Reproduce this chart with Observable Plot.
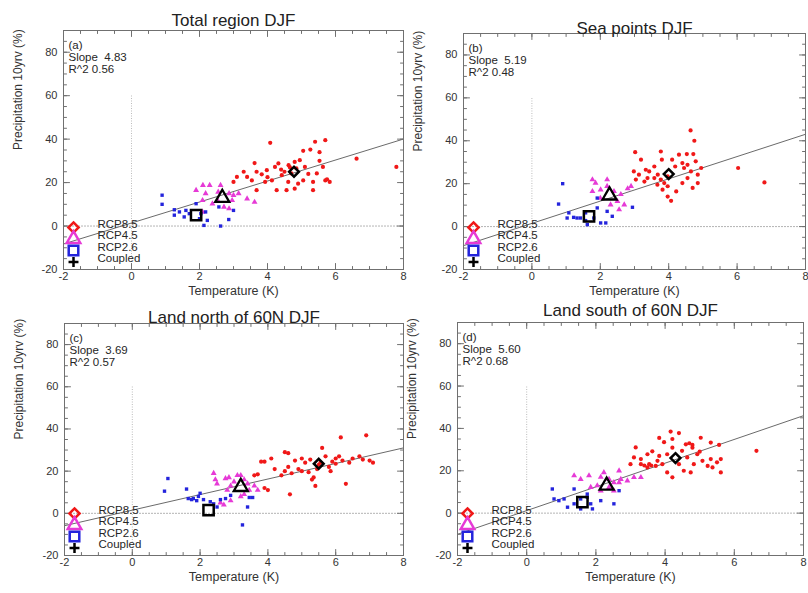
<!DOCTYPE html>
<html><head><meta charset="utf-8">
<script src="https://cdn.jsdelivr.net/npm/d3@7"></script>
<script src="https://cdn.jsdelivr.net/npm/@observablehq/plot@0.6"></script>
<style>
body{margin:0;background:#fff;width:808px;height:593px;overflow:hidden;font-family:"Liberation Sans",Arial,sans-serif}
#wrap{position:relative;width:808px;height:593px}
.panel{position:absolute}
</style></head><body><div id="wrap"></div>
<script>
// ---------- data ----------
const panelLetters = ["(a)", "(b)", "(c)", "(d)"];
const panelTitles = ["Total region DJF", "Sea points DJF", "Land north of 60N DJF", "Land south of 60N DJF"];
const slopes = [4.83, 5.19, 3.69, 5.60];
const intercepts = [1.4, 1.5, 1.5, 1.2];
const rSquared = [0.56, 0.48, 0.57, 0.68];
const legendLabels = ["RCP8.5", "RCP4.5", "RCP2.6", "Coupled"];
const xTickValues = [-2, 0, 2, 4, 6, 8];
const yTickValues = [-20, 0, 20, 40, 60, 80];
const xLabel = "Temperature (K)";
const yLabel = "Precipitation 10yrv (%)";

// panel (a)
const rcp85A = [[4.08,38.3],[5.7,39.5],[5.4,38.8],[5.05,34.6],[5.26,35.2],[5.53,34],[3.62,29],[6.62,31],[7.79,27.2],[5.53,30],[4.8,29.5],[4.62,28],[3.3,25],[3.4,22.6],[3.83,23.8],[3.98,25.7],[4.22,27.2],[4.32,28.8],[4.5,25],[4.66,27],[4.42,23.4],[4.13,21],[3.93,20.3],[4.27,16.5],[4.56,16.5],[4.8,17.2],[5.05,21],[5.2,24],[5.34,20.3],[5.63,27.2],[5.7,21],[5.83,20.3],[5.34,16.5],[3.54,21],[3.68,16.5],[4.95,30.3],[4.85,26.5],[5.1,27.2],[4.61,20.3],[4.9,19.5],[5.45,24.2],[4.7,24.2],[3.68,25],[3.1,22.6],[3.0,20.3],[5.75,21.5],[4.0,22.5],[4.4,26]];
const rcp45A = [[1.9,16.5],[2.1,18.8],[2.3,18.8],[2.18,15],[2.55,15.7],[2.62,18.8],[2.87,15],[3.0,14.2],[3.15,15],[3.4,12.6],[3.62,11],[2.53,11.8],[2.72,8.8],[2.38,10.3],[2.96,11.8],[2.09,11.8],[2.09,6.5],[2.87,8]];
const rcp26A = [[0.9,14.2],[0.9,10],[1.26,7.5],[1.41,6.5],[1.26,5],[1.55,4.2],[1.7,5.7],[1.9,10.3],[2.0,3.4],[2.18,6.5],[2.23,2.6],[2.13,0.3],[2.62,0],[2.86,3],[3.0,7.2],[2.57,8.8],[1.6,7.2],[2.04,5.7]];
// panel (b)
const rcp85B = [[4.64,44.8],[4.75,40],[3.02,34.7],[3.19,31.2],[3.77,35],[3.8,31.2],[4.1,31.2],[4.3,33.5],[4.53,33.8],[4.72,33.8],[4.79,30.4],[4.55,28.8],[4.4,29.6],[4.19,28],[3.58,28],[3.33,26.5],[2.98,25.7],[3.13,24.2],[3.43,25.7],[3.68,24.2],[3.77,21.9],[3.87,20.3],[3.67,19.5],[3.97,18.8],[3.82,17.2],[4.07,12],[3.97,14],[4.22,16.4],[4.4,20.3],[4.55,22.6],[4.7,18],[4.85,20.3],[4.95,27.3],[4.85,24.2],[3.04,21.9],[3.29,21],[6.03,27.3],[6.8,20.6],[3.58,22.6],[3.97,23.4],[3.38,22.6],[4.45,27.3],[4.65,25.7]];
const rcp45B = [[1.77,21.9],[1.86,20.3],[2.2,21.9],[2.2,18.8],[1.77,16.4],[2.01,17.2],[2.4,16.4],[2.6,15],[2.5,11.8],[2.7,10.2],[2.3,10.2],[2.8,17.7],[2.9,18.8],[2.55,7.9],[2.0,13.3]];
const rcp26B = [[0.9,20],[0.78,10.5],[1.08,6.4],[1.03,4],[1.22,4.3],[1.42,4],[1.57,6.4],[1.57,2.8],[1.81,4],[1.91,8.7],[2.01,1.7],[2.16,1.7],[2.2,7.1],[2.94,9],[1.91,13.3],[2.35,4.8],[1.62,0.9],[1.32,4]];
// panel (c)
const rcp85C = [[3.6,18],[3.7,18.5],[3.8,24.5],[3.9,24.5],[3.9,12],[4.0,11],[4.1,26],[4.2,21],[4.4,18],[4.5,20],[4.5,29],[4.6,28.5],[4.6,22],[4.65,9],[4.7,19],[4.8,25],[4.9,21],[5.0,26],[5.0,20],[5.1,24],[5.2,19.5],[5.3,16],[5.35,17],[5.4,13],[5.45,21],[5.5,23],[5.6,31],[5.7,27],[5.8,22],[5.85,20],[5.9,24.5],[6.0,26],[6.1,27],[6.15,36],[6.2,25],[6.3,14],[6.4,24],[6.5,26],[6.7,27],[6.9,37],[7.0,25],[7.1,24],[6.8,25.5],[5.55,24],[5.25,25.5],[6.0,23.5]];
const rcp45C = [[2.4,19],[2.45,16],[2.5,14],[2.6,5],[2.75,16.5],[2.8,11],[2.85,17],[2.9,13],[3.0,15],[3.1,18],[3.2,18],[3.3,16],[3.4,14],[3.45,11],[3.6,13],[3.7,11],[3.2,8],[2.7,4],[2.9,6],[3.3,9]];
const rcp26C = [[0.95,10.5],[1.05,16.5],[1.6,11.5],[1.65,7],[1.75,6.5],[1.8,7],[1.9,6],[1.95,8],[2.1,6.5],[2.3,5.5],[2.4,4.5],[2.5,3],[2.6,6.5],[2.75,7],[2.9,8.5],[3.25,-5.5],[3.4,3],[3.45,7.5],[3.55,7.5],[2.0,9.5]];
// panel (d)
const rcp85D = [[4.16,38.5],[4.4,37.8],[3.83,35.5],[3.97,33.5],[4.21,35],[4.6,32.5],[4.79,32.2],[5.03,35.6],[5.32,33.3],[5.56,32.2],[6.64,29.4],[3.63,29.2],[3.49,27.8],[3.15,31],[3.1,26.3],[3.3,23.1],[3.54,23.1],[3.73,22.3],[3.92,23.1],[3.49,21.6],[4.06,19.2],[4.21,16.9],[4.4,23.1],[4.64,26.3],[4.83,23.1],[4.74,19.2],[5.08,24.7],[5.23,22.3],[5.32,25.5],[5.61,25.5],[5.61,19.2],[5.37,21.6],[4.93,27.8],[4.06,27.8],[4.49,29.4],[3.83,27],[4.21,30.9],[4.79,30.9],[3.78,24.7],[3.3,25.5],[4.54,20],[3.0,23.1],[5.0,29],[4.7,33],[5.5,24],[3.4,22.5],[3.6,22.5]];
const rcp45D = [[1.37,17.7],[1.56,16],[1.8,17.7],[2.14,17],[2.38,16],[2.52,14.5],[2.67,20],[2.72,16],[2.91,15.3],[3.1,16.9],[2.23,19.2],[2.04,13],[2.38,12.2],[2.67,14.5],[2.14,10.6],[2.52,10.6],[3.3,16.9],[1.85,12.2]];
const rcp26D = [[0.74,11.4],[0.79,6.7],[0.93,5.9],[1.08,6.7],[1.37,11.4],[1.37,4.4],[1.56,6.7],[1.75,7.5],[1.85,4.4],[1.9,2],[1.56,2],[2.14,5.9],[2.52,4.4],[2.67,10.6],[1.18,2.8],[1.75,9]];

// coupled-model results (black symbols) for RCP8.5, RCP4.5, RCP2.6 per panel
const coupledRcp85 = [[4.78,25],[4.0,24.5],[5.5,23.5],[4.3,26]];
const coupledRcp45 = [[2.67,13],[2.27,14.5],[3.2,12.5],[2.31,13]];
const coupledRcp26 = [[1.9,5],[1.67,4.8],[2.25,1.5],[1.61,5.2]];

const rcp85Sets = [rcp85A, rcp85B, rcp85C, rcp85D];
const rcp45Sets = [rcp45A, rcp45B, rcp45C, rcp45D];
const rcp26Sets = [rcp26A, rcp26B, rcp26C, rcp26D];

// ---------- layout / style ----------
const layouts = [
  {left: 0,   top: 0,   width: 404, height: 300, mt: 30, mb: 31, ml: 63, mr: 1, titleDy: -17},
  {left: 404, top: 0,   width: 404, height: 300, mt: 33, mb: 31, ml: 59, mr: 3, titleDy: -12},
  {left: 0,   top: 290, width: 404, height: 303, mt: 33, mb: 38, ml: 64, mr: 1, titleDy: -13},
  {left: 404, top: 290, width: 404, height: 303, mt: 32, mb: 38, ml: 53, mr: 5, titleDy: -19}
];
const RED = "#f01818", MAG = "#e63ad6", BLUE = "#2424dc", INK = "#262626", FRAME = "#707070";
const xDomain = [-2, 8], yDomain = [-20, 90];
const xMinor = d3.range(-2, 8.001, 0.5);
const yMinor = d3.range(-20, 90.001, 5);
const font = "'Liberation Sans', Arial, sans-serif";
const tickShape = {draw(context, l) { context.moveTo(0, 0); context.lineTo(0, -l); }};

function tickMarks() {
  const m = [];
  const sides = [
    {ticks: xMinor, major: xTickValues, ch: "x", frameAnchor: "bottom", rotate: 0},
    {ticks: xMinor, major: xTickValues, ch: "x", frameAnchor: "top", rotate: 180},
    {ticks: yMinor, major: yTickValues, ch: "y", frameAnchor: "left", rotate: 90},
    {ticks: yMinor, major: yTickValues, ch: "y", frameAnchor: "right", rotate: 270}
  ];
  for (const s of sides) {
    for (const [arr, len] of [[s.ticks, 3], [s.major, 6]]) {
      m.push(Plot.vector(arr, {
        x: s.ch === "x" ? d => d : null,
        y: s.ch === "y" ? d => d : null,
        frameAnchor: s.frameAnchor, rotate: s.rotate, length: len, anchor: "start",
        shape: tickShape, stroke: FRAME, strokeWidth: 1
      }));
    }
  }
  return m;
}

function legendMarks() {
  const rows = [-42, -30.5, -19, -7.5];
  const syms = [
    {symbol: "diamond2", stroke: RED, r: 4.6},
    {symbol: "triangle", stroke: MAG, r: 5},
    {symbol: "square", stroke: BLUE, r: 5.4},
    {symbol: "plus", stroke: "#000", r: 3.3}
  ];
  const out = [];
  legendLabels.forEach((lab, k) => {
    out.push(Plot.dot([lab], {x: null, y: null, frameAnchor: "bottom-left", dx: 10, dy: rows[k],
      symbol: syms[k].symbol, r: syms[k].r, stroke: syms[k].stroke, strokeWidth: 2.5, fill: "none"}));
    out.push(Plot.text([lab], {x: null, y: null, text: d => d, frameAnchor: "bottom-left", dx: 34, dy: rows[k],
      textAnchor: "start", fontSize: 11.5, fill: INK}));
  });
  return out;
}

function makePanel(i) {
  const L = layouts[i];
  const regLine = xDomain.map(x => ({x, y: intercepts[i] + slopes[i] * x}));
  const P = d => d[0], Q = d => d[1];
  const plot = Plot.plot({
    width: L.width, height: L.height,
    marginTop: L.mt, marginBottom: L.mb, marginLeft: L.ml, marginRight: L.mr,
    x: {domain: xDomain, axis: null},
    y: {domain: yDomain, axis: null},
    style: {background: "transparent", overflow: "visible", fontFamily: font},
    marks: [
      Plot.ruleY([0], {stroke: "#b4b4b4", strokeWidth: 1, strokeDasharray: "2,1"}),
      Plot.ruleX([0], {y1: -20, y2: 60, stroke: "#bcbcbc", strokeWidth: 1, strokeDasharray: "1,1.5"}),
      Plot.line(regLine, {x: "x", y: "y", stroke: "#444", strokeWidth: 0.8}),
      Plot.dot(rcp85Sets[i], {x: P, y: Q, symbol: "circle", r: 2.1, fill: RED}),
      Plot.dot(rcp45Sets[i], {x: P, y: Q, symbol: "triangle", r: 2.2, fill: MAG}),
      Plot.dot(rcp26Sets[i], {x: P, y: Q, symbol: "square", r: 1.9, fill: BLUE}),
      Plot.dot([coupledRcp85[i]], {x: P, y: Q, symbol: "diamond2", r: 4.4, stroke: "#000", strokeWidth: 2.5, fill: "none"}),
      Plot.dot([coupledRcp45[i]], {x: P, y: Q, symbol: "triangle", r: 5.2, stroke: "#000", strokeWidth: 2.3, fill: "none"}),
      Plot.dot([coupledRcp26[i]], {x: P, y: Q, symbol: "square", r: 5.8, stroke: "#000", strokeWidth: 2.5, fill: "none"}),
      Plot.frame({stroke: FRAME, strokeWidth: 1}),
      ...tickMarks(),
      // tick labels
      Plot.axisX({ticks: xTickValues, anchor: "bottom", tickSize: 0, tickPadding: 3, tickFormat: d => String(d), label: null, fontSize: 11, fill: "#333"}),
      Plot.axisY({ticks: yTickValues, anchor: "left", tickSize: 0, tickPadding: 6, tickFormat: d => String(d), label: null, fontSize: 11, fill: "#333"}),
      // axis titles
      Plot.text([xLabel], {x: null, y: null, text: d => d, frameAnchor: "bottom", dy: 25.5, fontSize: 12.5, fill: "#333"}),
      Plot.text([yLabel], {x: null, y: null, text: d => d, frameAnchor: "left", dx: -45, rotate: -90, fontSize: 12, fill: "#333"}),
      // panel title
      Plot.text([panelTitles[i]], {x: null, y: null, text: d => d, frameAnchor: "top", dy: L.titleDy, fontSize: 17, fill: "#222"}),
      // annotation
      Plot.text([panelLetters[i]], {x: null, y: null, text: d => d, frameAnchor: "top-left", dx: 5, dy: 10, textAnchor: "start", fontSize: 11.5, fill: INK}),
      Plot.text([slopes[i]], {x: null, y: null, text: d => "Slope\u00a0\u00a0" + d.toFixed(2), frameAnchor: "top-left", dx: 5, dy: 22, textAnchor: "start", fontSize: 11.5, fill: INK}),
      Plot.text([rSquared[i]], {x: null, y: null, text: d => "R^2 " + d.toFixed(2), frameAnchor: "top-left", dx: 5, dy: 34, textAnchor: "start", fontSize: 11.5, fill: INK}),
      ...legendMarks()
    ]
  });
  const div = document.createElement("div");
  div.className = "panel";
  div.style.left = L.left + "px";
  div.style.top = L.top + "px";
  div.appendChild(plot);
  return div;
}

const wrap = document.getElementById("wrap");
[0, 1, 2, 3].forEach(i => wrap.appendChild(makePanel(i)));
</script></body></html>
